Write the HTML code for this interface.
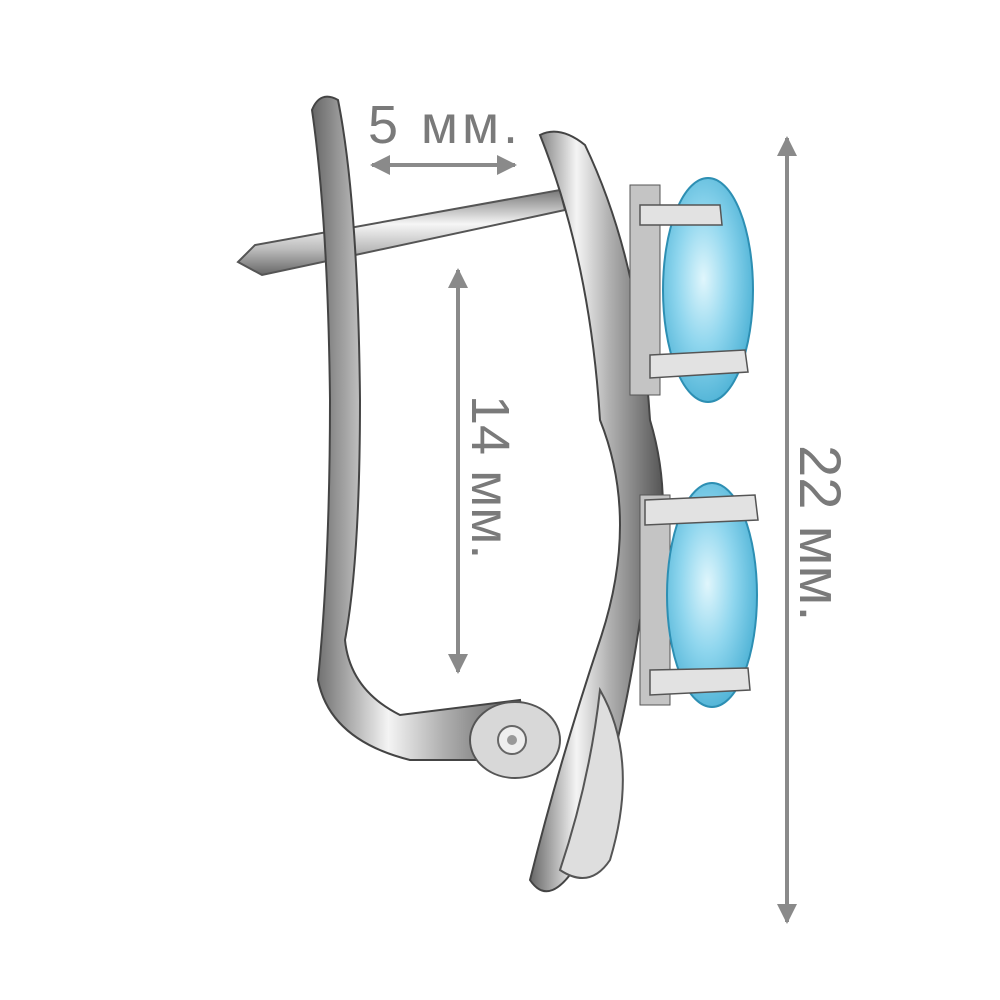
<!DOCTYPE html>
<html><head><meta charset="utf-8"><style>
html,body{margin:0;padding:0;background:#fff;width:1000px;height:1000px;overflow:hidden}
svg{display:block}
text{font-family:"Liberation Sans","DejaVu Sans",sans-serif;fill:#7a7a7a}
</style></head><body>
<svg width="1000" height="1000" viewBox="0 0 1000 1000">
<defs>
<linearGradient id="met" x1="0" y1="0" x2="1" y2="0">
<stop offset="0" stop-color="#666"/><stop offset=".35" stop-color="#f4f4f4"/><stop offset=".6" stop-color="#b0b0b0"/><stop offset="1" stop-color="#555"/></linearGradient>
<linearGradient id="met2" x1="0" y1="0" x2="0" y2="1">
<stop offset="0" stop-color="#777"/><stop offset=".4" stop-color="#f6f6f6"/><stop offset=".7" stop-color="#bbb"/><stop offset="1" stop-color="#666"/></linearGradient>
<radialGradient id="gem" cx=".45" cy=".45" r=".6">
<stop offset="0" stop-color="#e0f6fc"/><stop offset=".5" stop-color="#8fd6ee"/><stop offset="1" stop-color="#4ab0d4"/></radialGradient>
<marker id="ah" viewBox="0 0 10 10" refX="9" refY="5" markerWidth="5" markerHeight="5" orient="auto-start-reverse"><path d="M0,0 L10,5 L0,10 Z" fill="#8a8a8a"/></marker>
</defs>
<line x1="372" y1="165" x2="515" y2="165" stroke="#8a8a8a" stroke-width="4" marker-start="url(#ah)" marker-end="url(#ah)"/>
<line x1="458" y1="270" x2="458" y2="672" stroke="#8a8a8a" stroke-width="4" marker-start="url(#ah)" marker-end="url(#ah)"/>
<line x1="787" y1="138" x2="787" y2="922" stroke="#8a8a8a" stroke-width="4" marker-start="url(#ah)" marker-end="url(#ah)"/>
<text x="368" y="143" font-size="54" textLength="150">5 мм.</text>
<text transform="translate(472,395) rotate(90)" font-size="54">14 мм.</text>
<text transform="translate(800,445) rotate(90)" font-size="58">22 мм.</text>
<path d="M238,262 L255,245 L560,190 L565,210 L262,275 Z" fill="url(#met2)" stroke="#555" stroke-width="2"/>
<path d="M312,110 Q320,90 338,100 Q358,200 360,400 Q360,560 345,640 Q350,690 400,715 L520,700 L530,760 L410,760 Q330,740 318,680 Q330,560 330,400 Q328,220 312,110 Z" fill="url(#met)" stroke="#444" stroke-width="2"/>
<ellipse cx="515" cy="740" rx="45" ry="38" fill="#d8d8d8" stroke="#555" stroke-width="2"/>
<circle cx="512" cy="740" r="14" fill="#eee" stroke="#666" stroke-width="2"/>
<circle cx="512" cy="740" r="5" fill="#999"/>
<path d="M540,135 Q560,125 585,145 Q640,260 650,420 Q680,520 640,620 Q620,760 580,860 Q550,910 530,880 Q560,760 600,640 Q640,520 600,420 Q590,260 540,135 Z" fill="url(#met)" stroke="#444" stroke-width="2"/>
<path d="M600,690 Q640,760 610,860 Q590,890 560,870 Q590,780 600,690 Z" fill="#dedede" stroke="#555" stroke-width="2"/>
<rect x="630" y="185" width="30" height="210" fill="#c4c4c4" stroke="#555"/>
<rect x="640" y="495" width="30" height="210" fill="#c4c4c4" stroke="#555"/>
<ellipse cx="708" cy="290" rx="45" ry="112" fill="url(#gem)" stroke="#2d8fb3" stroke-width="2"/>
<ellipse cx="712" cy="595" rx="45" ry="112" fill="url(#gem)" stroke="#2d8fb3" stroke-width="2"/>
<path d="M640,205 L720,205 L722,225 L640,225 Z M650,355 L745,350 L748,372 L650,378 Z M645,500 L755,495 L758,520 L645,525 Z M650,670 L748,668 L750,690 L650,695 Z" fill="#e2e2e2" stroke="#555" stroke-width="1.5"/>
</svg>
</body></html>
